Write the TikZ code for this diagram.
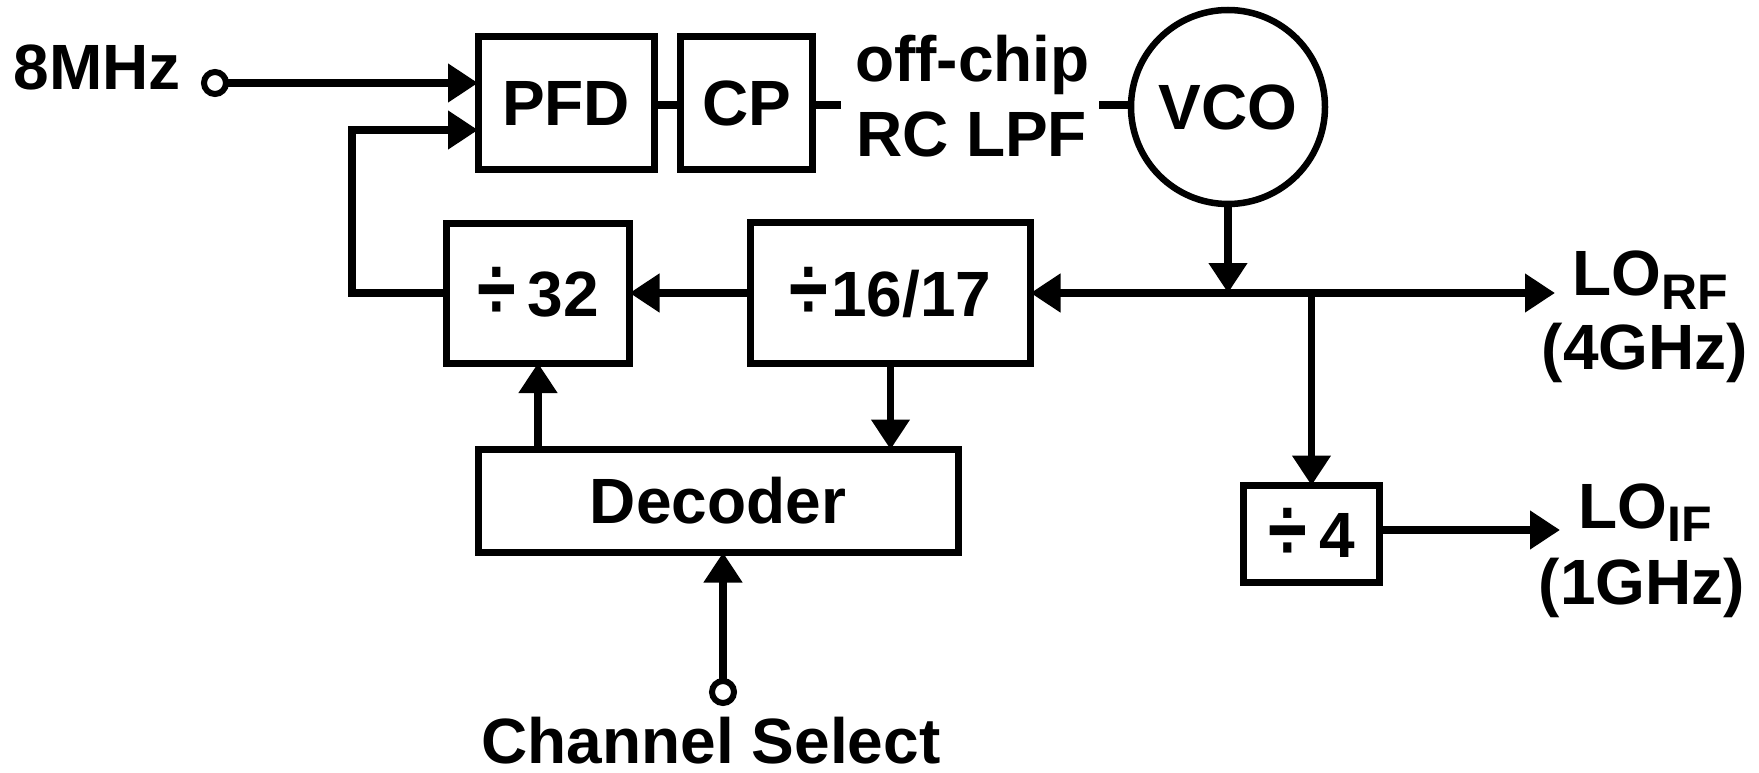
\documentclass[tikz,border=0pt]{standalone}
\usepackage{fontspec}
\setmainfont{Liberation Sans}
\usetikzlibrary{arrows.meta,calc}
\newcommand{\dvs}{\raisebox{-3pt}{\scalebox{1.1}[1.4]{÷}}}
\begin{document}
\begin{tikzpicture}[x=1pt,y=-1pt,
  every node/.style={font=\fontsize{64}{72}\selectfont\bfseries, inner sep=0pt, outer sep=0pt},
  blk/.style={draw, line width=7pt, rectangle},
  term/.style={draw, circle, line width=6pt, minimum size=22pt, fill=white},
  ln/.style={line width=7.5pt},
  arr/.style={line width=7.5pt, -{Triangle[length=30pt,width=37pt]}},
  arrboth/.style={line width=7.5pt, {Triangle[length=30pt,width=37pt]}-{Triangle[length=30pt,width=37pt]}}
]
\useasboundingbox (0,0) rectangle (1759,773);

% input
\node[anchor=base east] (l8) at (181,90) {8MHz};
\node[term] (in8) at (215,83) {};

% top row
\node[blk, minimum width=176pt, minimum height=133pt] (pfd) at (566,103) {PFD};
\node[blk, minimum width=132pt, minimum height=133pt] (cp) at (746.5,103) {CP};
\node[anchor=base west] (lpf1) at (855,82) {off-chip};
\node[anchor=base west] (lpf2) at (856,157) {RC LPF};
\node[draw, circle, line width=6.5pt, minimum size=194pt] (vco) at (1228,107) {VCO};

% middle row
\node[blk, minimum width=183pt, minimum height=140pt] (d32) at (538,293) {\dvs\kern12pt 32};
\node[blk, minimum width=280pt, minimum height=141pt] (d16) at (890.5,293) {\dvs\kern3pt 16/17};
\node[blk, minimum width=136pt, minimum height=97pt] (d4) at (1311.5,534) {\dvs\kern12pt 4};
\node[blk, minimum width=480pt, minimum height=103pt] (dec) at (718,501) {Decoder};

% outputs
\node[anchor=base] (lorf) at (1650,295) {LO\raisebox{-14pt}{\fontsize{50}{50}\selectfont\bfseries RF}};
\node[anchor=base] (lorf2) at (1645,369) {(4GHz)};
\node[anchor=base] (loif) at (1645,528) {LO\raisebox{-13pt}{\fontsize{50}{50}\selectfont\bfseries IF}};
\node[anchor=base] (loif2) at (1642,604) {(1GHz)};

% channel select
\node[term] (cs) at (723,692) {};
\node[anchor=base] (csl) at (711,763) {Channel Select};

% coordinates
\coordinate (fb) at (352,130);
\coordinate (rfend) at (1555,293);
\coordinate (ifend) at (1560,530);
\coordinate (cpstub) at (841,105);
\coordinate (vcostub) at (1099,105);

% connectors
\draw[arr] (in8) -- (in8 -| pfd.west);
\draw[arr] (d32.west) -| (fb) -- (fb -| pfd.west);
\draw[ln] (pfd.east |- cpstub) -- (cp.west |- cpstub);
\draw[ln] (cp.east |- cpstub) -- (cpstub);
\draw[ln] (vcostub) -- (vco.west |- vcostub);
\draw[arr] (vco.south) -- (vco.south |- d16.east);
\draw[arrboth] (d16.east) -- (rfend);
\draw[arr] (d4.north |- d16.east) -- (d4.north);
\draw[arr] (d4.east |- ifend) -- (ifend);
\draw[arr] (d16.west) -- (d32.east);
\draw[arr] (d16.south) -- (d16.south |- dec.north);
\draw[arr] (d32.south |- dec.north) -- (d32.south);
\draw[arr] (cs.north) -- (cs.north |- dec.south);
\end{tikzpicture}
\end{document}
